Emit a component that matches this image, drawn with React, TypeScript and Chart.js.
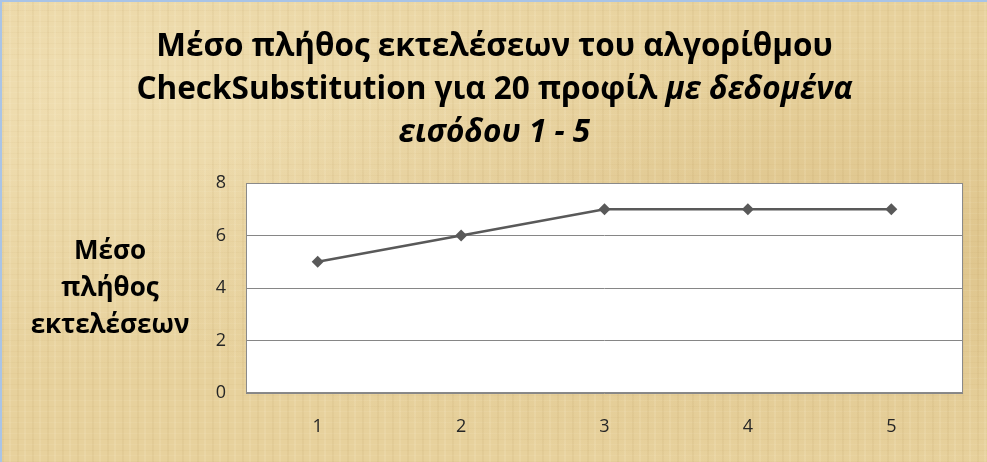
import { useEffect, useRef } from 'react';
import { Chart, registerables } from 'chart.js';

Chart.register(...registerables);

const inputSizes = ['1', '2', '3', '4', '5'];
const avgExecutions = [5, 6, 7, 7, 7];
const yTicks = [0, 2, 4, 6, 8];

// title lines: each segment is [text, italic]
const titleLines: [string, boolean][][] = [
  [['Μέσο πλήθος εκτελέσεων του αλγορίθμου', false]],
  [['CheckSubstitution για 20 προφίλ ', false], ['με δεδομένα', true]],
  [['εισόδου 1 - 5', true]],
];
const yTitleLines = ['Μέσο', 'πλήθος', 'εκτελέσεων'];

const FONT = '"Open Sans", "Noto Sans", sans-serif';

const decorPlugin = {
  id: 'decor',
  beforeDraw(chart: any) {
    const { ctx, chartArea } = chart;
    ctx.save();
    ctx.fillStyle = '#ffffff';
    ctx.fillRect(chartArea.left, chartArea.top, chartArea.right - chartArea.left, chartArea.bottom - chartArea.top);
    ctx.restore();
  },
  afterDraw(chart: any) {
    const { ctx, chartArea, width } = chart;
    ctx.save();
    // plot border
    ctx.strokeStyle = '#8a8a8a';
    ctx.lineWidth = 1;
    ctx.strokeRect(chartArea.left + 0.5, chartArea.top + 0.5, chartArea.right - chartArea.left - 1, chartArea.bottom - chartArea.top - 1);

    // title with mixed regular / italic segments
    ctx.fillStyle = '#000000';
    ctx.textBaseline = 'alphabetic';
    ctx.textAlign = 'left';
    const baselines = [54, 97, 140];
    titleLines.forEach((segs, i) => {
      let total = 0;
      const widths = segs.map(([t, it]) => {
        ctx.font = `${it ? 'italic ' : ''}bold 31.5px ${FONT}`;
        const w = ctx.measureText(t).width;
        total += w;
        return w;
      });
      let x = width / 2 - total / 2;
      segs.forEach(([t, it], j) => {
        ctx.font = `${it ? 'italic ' : ''}bold 31.5px ${FONT}`;
        ctx.fillText(t, x, baselines[i]);
        x += widths[j];
      });
    });

    // y axis title, three horizontal lines
    ctx.textAlign = 'center';
    ctx.font = `bold 26px ${FONT}`;
    const yb = [257, 294, 331];
    yTitleLines.forEach((t, i) => ctx.fillText(t, 108, yb[i]));
    ctx.restore();
  },
};

export default function App() {
  const canvasRef = useRef<HTMLCanvasElement>(null);

  useEffect(() => {
    if (!canvasRef.current) return;
    const chart = new Chart(canvasRef.current, {
      type: 'line',
      data: {
        labels: inputSizes,
        datasets: [
          {
            label: 'Μέσο πλήθος εκτελέσεων',
            data: avgExecutions,
            borderColor: '#595959',
            backgroundColor: '#595959',
            borderWidth: 2.5,
            pointStyle: 'rectRot',
            pointRadius: 6,
            pointBorderWidth: 0,
            tension: 0,
          },
        ],
      },
      options: {
        responsive: true,
        maintainAspectRatio: false,
        animation: false,
        layout: { padding: { top: 181, left: 200, right: 24, bottom: 19 } },
        plugins: {
          legend: { display: false },
          title: { display: false },
          tooltip: { enabled: false },
        },
        scales: {
          x: {
            offset: true,
            grid: { display: false, drawTicks: false },
            border: { display: false },
            ticks: { color: '#262626', padding: 23, font: { family: FONT, size: 18 } },
            afterFit: (s: any) => { s.height = 50; },
          },
          y: {
            min: 0,
            max: 8,
            afterBuildTicks: (s: any) => { s.ticks = yTicks.map((v) => ({ value: v })); },
            grid: { color: '#868686', lineWidth: 1, drawTicks: false },
            border: { display: false },
            ticks: { color: '#262626', padding: 20, font: { family: FONT, size: 18 } },
            afterFit: (s: any) => { s.width = 44; },
          },
        },
      },
      plugins: [decorPlugin],
    });
    return () => chart.destroy();
  }, []);

  return (
    <div
      style={{
        position: 'fixed',
        left: 0,
        top: 0,
        width: 987,
        height: 462,
        boxSizing: 'border-box',
        borderTop: '2px solid #a9c4e6',
        borderLeft: '2px solid #a9c4e6',
        backgroundColor: '#e7d19c',
        backgroundImage: [
          'repeating-linear-gradient(90deg, rgba(150,110,40,0.06) 0 2px, transparent 2px 7px, rgba(255,248,225,0.12) 7px 9px, transparent 9px 15px)',
          'repeating-linear-gradient(0deg, rgba(150,110,40,0.04) 0 1px, transparent 1px 6px, rgba(255,248,225,0.08) 6px 7px, transparent 7px 11px)',
          'radial-gradient(ellipse at 85% 55%, rgba(190,150,80,0.22), transparent 60%)',
          'radial-gradient(ellipse at 10% 20%, rgba(255,245,215,0.35), transparent 55%)',
        ].join(', '),
      }}
    >
      <canvas ref={canvasRef} />
    </div>
  );
}
